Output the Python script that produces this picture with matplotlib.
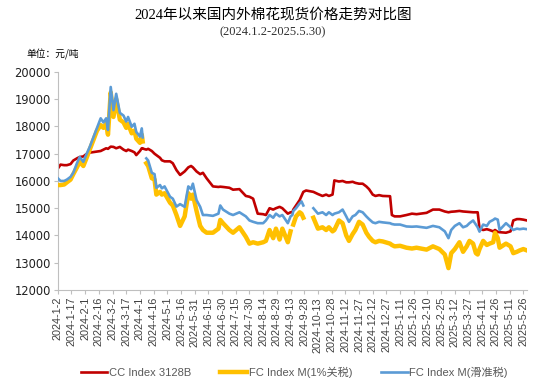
import numpy as np
import pandas as pd
import matplotlib
matplotlib.use('Agg')
import matplotlib.pyplot as plt

nan = np.nan

# sample dates (roughly every 3-5 days)
dates = [
    "2024-01-02", "2024-01-05", "2024-01-09", "2024-01-12", "2024-01-16", "2024-01-19", "2024-01-23", "2024-01-26", "2024-01-30", "2024-02-02",
    "2024-02-06", "2024-02-10", "2024-02-14", "2024-02-18", "2024-02-21", "2024-02-24", "2024-02-26", "2024-02-29", "2024-03-03", "2024-03-06",
    "2024-03-10", "2024-03-14", "2024-03-17", "2024-03-19", "2024-03-23", "2024-03-26", "2024-03-28", "2024-04-01", "2024-04-03", "2024-04-04",
    "2024-04-05", "2024-04-08", "2024-04-10", "2024-04-14", "2024-04-17", "2024-04-19", "2024-04-23", "2024-04-25", "2024-04-28", "2024-05-04",
    "2024-05-07", "2024-05-11", "2024-05-15", "2024-05-20", "2024-05-24", "2024-05-27", "2024-05-29", "2024-06-02", "2024-06-06", "2024-06-09",
    "2024-06-13", "2024-06-20", "2024-06-26", "2024-06-28", "2024-07-01", "2024-07-08", "2024-07-12", "2024-07-19", "2024-07-26", "2024-07-30",
    "2024-08-03", "2024-08-08", "2024-08-14", "2024-08-17", "2024-08-21", "2024-08-25", "2024-08-28", "2024-09-01", "2024-09-04", "2024-09-10",
    "2024-09-13", "2024-09-15", "2024-09-16", "2024-09-19", "2024-09-23", "2024-09-25", "2024-09-27", "2024-09-30", "2024-10-08", "2024-10-13",
    "2024-10-18", "2024-10-22", "2024-10-25", "2024-10-29", "2024-10-31", "2024-11-05", "2024-11-09", "2024-11-13", "2024-11-16", "2024-11-20",
    "2024-11-23", "2024-11-27", "2024-12-01", "2024-12-05", "2024-12-08", "2024-12-12", "2024-12-15", "2024-12-19", "2024-12-23", "2024-12-31",
    "2025-01-02", "2025-01-05", "2025-01-11", "2025-01-18", "2025-01-24", "2025-01-29", "2025-02-09", "2025-02-16", "2025-02-23", "2025-03-01",
    "2025-03-05", "2025-03-08", "2025-03-12", "2025-03-17", "2025-03-21", "2025-03-25", "2025-03-28", "2025-04-01", "2025-04-04", "2025-04-06",
    "2025-04-08", "2025-04-12", "2025-04-16", "2025-04-19", "2025-04-23", "2025-04-25", "2025-04-28", "2025-04-30", "2025-05-07", "2025-05-12",
    "2025-05-15", "2025-05-19", "2025-05-22", "2025-05-26", "2025-05-30",
]

cc_3128b = [
    16450, 16600, 16580, 16580, 16620, 16750, 16830, 16880, 16900, 16980,
    17040, 17060, 17080, 17100, 17150, 17200, 17180, 17260, 17250, 17200,
    17250, 17150, 17100, 17150, 17100, 17050, 16950, 17100, 17200, 17200,
    17180, 17150, 17180, 17100, 17000, 16950, 16850, 16760, 16720, 16720,
    16650, 16400, 16220, 16350, 16500, 16550, 16500, 16350, 16250, 16300,
    16100, 15800, 15780, 15790, 15780, 15750, 15680, 15700, 15450, 15420,
    15350, 14800, 14780, 14750, 15000, 14950, 15000, 15050, 15000, 14800,
    14850, 14850, 14950, 15100, 15300, 15450, 15600, 15650, 15600, 15520,
    15450, 15500, 15450, 15500, 16020, 15980, 16000, 15950, 15950, 15970,
    15930, 15900, 15900, 15800, 15700, 15500, 15450, 15480, 15450, 15440,
    14750, 14700, 14700, 14750, 14800, 14780, 14830, 14950, 14950, 14880,
    14850, 14870, 14880, 14900, 14880, 14870, 14860, 14850, 14850, 14850,
    14250, 14200, 14230, 14200, 14150, 14200, 14130, 14120, 14100, 14150,
    14550, 14600, 14600, 14580, 14550,
]

fc_m_1pct = [
    15850, 15850, 15870, 15950, 16050, 16250, 16500, 16700, 16550, 16800,
    17150, 17500, 17850, 18050, 17950, 18100, 17700, 19250, 18350, 19000,
    18250, 18150, 17950, 18100, 17750, 17850, 17550, 17400, 17700, 17450,
    nan, 16650, 16550, 16100, 16050, 15500, 15600, 15500, 15550, 15200,
    15100, 14750, 14350, 14700, 15550, 15350, 15500, 14900, 14350, 14200,
    14100, 14100, 14250, 14570, 14450, 14200, 14100, 14300, 13950, 13700,
    13750, 13700, 13750, 13800, 14200, 13900, 14250, 13850, 14250, 13750,
    14150, nan, 14400, 14700, 14850, 14800, 14650, nan, 14650, 14250,
    14300, 14200, 14300, 14150, 14200, 14550, 14450, 14000, 13800, 14050,
    14200, 14500, 14400, 14100, 13950, 13800, 13750, 13800, 13780, 13700,
    13650, 13600, 13620, 13550, 13520, 13550, 13480, 13600, 13500, 13300,
    12800, 13350, 13500, 13750, 13400, 13600, 13800, 13700, 13350, 13300,
    13500, 13800, 13650, 13700, 13750, 14100, 13900, 13550, 13700, 13600,
    13350, 13400, 13450, 13500, 13450,
]

fc_m_sliding = [
    16100, 16000, 16000, 16050, 16150, 16300, 16650, 16880, 16700, 16950,
    17250, 17600, 17950, 18300, 18150, 18300, 17870, 19450, 18600, 19200,
    18500, 18400, 18180, 18350, 17990, 18100, 17800, 17630, 17930, 17600,
    nan, 16830, 16750, 16300, 16250, 15750, 15850, 15730, 15800, 15420,
    15350, 15060, 15150, 15050, 15800, 15700, 15900, 15300, 15050, 14750,
    14750, 14720, 14800, 15100, 14950, 14800, 14750, 14850, 14700, 14550,
    14500, 14450, 14450, 14550, 14750, 14650, 14800, 14700, 14750, 14450,
    14700, 14750, 14900, 15000, 15180, 15250, 15100, nan, 15000, 14800,
    14850, 14750, 14850, 14750, 14800, 14850, 14950, 14700, 14500, 14700,
    14750, 14900, 14850, 14700, 14600, 14480, 14450, 14500, 14480, 14450,
    14420, 14400, 14400, 14330, 14320, 14330, 14280, 14350, 14300, 14150,
    13900, 14200, 14350, 14450, 14300, 14350, 14450, 14550, 14400, 14300,
    14140, 14400, 14350, 14500, 14570, 14620, 14580, 14200, 14450, 14300,
    14200, 14250, 14230, 14250, 14230,
]

labels = ['CC Index 3128B', 'FC Index M(1%关税)', 'FC Index M(滑准税)']

x = pd.to_datetime(dates)

fig = plt.figure(figsize=(5.35, 3.83), dpi=100)
ax = fig.add_axes([0.108, 0.243, 0.877, 0.569])

ax.plot(x, cc_3128b, color='#C00000', lw=1.9, label=labels[0], zorder=2)
ax.plot(x, fc_m_1pct, color='#FFC000', lw=3.2, label=labels[1], zorder=3)
ax.plot(x, fc_m_sliding, color='#5B9BD5', lw=1.9, label=labels[2], zorder=4)

ax.set_xlim(pd.Timestamp('2024-01-02'), pd.Timestamp('2025-05-30'))
ax.set_ylim(12000, 20000)
ax.set_yticks(range(12000, 20001, 1000))

ticks = pd.date_range('2024-01-02', '2025-05-30', freq='15D')
ax.set_xticks(ticks)
ax.set_xticklabels([f"{d.year}-{d.month}-{d.day}" for d in ticks],
                   rotation=90, fontsize=7.8, family='Liberation Sans', color='#404040')
for t in ax.get_yticklabels():
    t.set_family('DejaVu Sans')
    t.set_fontsize(8.3)
    t.set_color('#202020')

for s in ['top', 'right']:
    ax.spines[s].set_visible(False)
for s in ['left', 'bottom']:
    ax.spines[s].set_color('#BFBFBF')
    ax.spines[s].set_linewidth(0.8)
ax.tick_params(axis='both', direction='out', length=3, color='#BFBFBF', width=0.8, pad=2)

fig.text(0.51, 0.962, '2024年以来国内外棉花现货价格走势对比图', ha='center', va='center',
         fontsize=10.5, family=['Liberation Serif', 'Noto Sans CJK SC'])
fig.text(0.51, 0.915, '(2024.1.2-2025.5.30)', ha='center', va='center',
         fontsize=9, family='Liberation Serif', color='#303030')
fig.text(0.05, 0.857, '单位：元/吨', ha='left', va='center',
         fontsize=7, family=['Noto Sans CJK SC'])

leg = fig.legend(loc='lower center', bbox_to_anchor=(0.55, -0.012), ncol=3, frameon=False,
                 handlelength=2.4, columnspacing=2.6, handletextpad=0.15,
                 prop={'family': ['Liberation Sans', 'Noto Sans CJK SC'], 'size': 8})
for t in leg.get_texts():
    t.set_color('#595959')

fig.savefig('out.png', dpi=100)
